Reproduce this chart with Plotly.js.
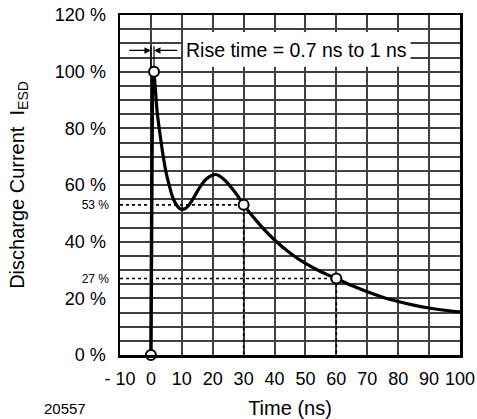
<!DOCTYPE html>
<html>
<head>
<meta charset="utf-8">
<script src="https://cdn.plot.ly/plotly-3.0.1.min.js"></script>
<style>
  html, body { margin: 0; padding: 0; background: #fff; }
  #chart { width: 477px; height: 419px; }
</style>
</head>
<body>
<div id="chart"></div>
<script>
// ---- data ----
const riseT = [0, 0.5, 1];
const riseI = [0, 98, 100];
const decayT = [1, 1.5, 2, 3, 4, 5, 6, 7, 8, 9, 10, 11, 12, 13, 14, 16, 18, 20, 21, 22, 24, 26, 28, 30, 35, 40, 45, 50, 55, 60, 65, 70, 75, 80, 85, 90, 95, 100];
const decayI = [100, 93, 86, 77.5, 70, 64, 59.6, 55.8, 53.4, 52, 51.4, 51.6, 52.5, 54, 55.8, 59.5, 62.2, 63.5, 63.7, 63.3, 61.6, 59.1, 56.3, 53, 46.3, 40.6, 36, 32.3, 29.4, 27, 24.5, 22.3, 20.4, 18.9, 17.6, 16.6, 15.8, 15.2];
const markerT = [0, 1, 30, 60];
const markerI = [0, 100, 53, 27];
const refT = [30, 60];          // dotted reference points
const refI = [53, 27];
const refLabels = ['53 %', '27 %'];
const xTickVals = [-10, 0, 10, 20, 30, 40, 50, 60, 70, 80, 90, 100];
const xTickText = ['- 10', '0', '10', '20', '30', '40', '50', '60', '70', '80', '90', '100'];
const yGridVals = [0,5,10,15,20,25,30,35,40,45,50,55,60,65,70,75,80,85,90,95,100,105,110,115,120];
const yLabelVals = [0, 20, 40, 60, 80, 100, 120];
const riseStart = 0, riseEnd = 1;     // rise-time markers (ns)
const riseArrowLevel = 107.5;
const riseLabel = 'Rise time = 0.7 ns to 1 ns';
const figNumber = '20557';

const FONT = 'Liberation Sans, Arial, Helvetica, sans-serif';
const yTickText = yGridVals.map(v => yLabelVals.includes(v) ? v + ' %' : '');

const traces = [];
// dotted reference lines
refT.forEach((t, i) => {
  traces.push({
    x: [-10, t, t], y: [refI[i], refI[i], 0],
    mode: 'lines', line: {color: '#000', width: 1.6, dash: 'dot'},
    hoverinfo: 'skip', showlegend: false
  });
});
// rise-time thin marker lines
[riseStart, riseEnd].forEach(t => {
  traces.push({
    x: [t, t], y: [100, 109], mode: 'lines',
    line: {color: '#000', width: 1.2}, showlegend: false, hoverinfo: 'skip'
  });
});
// rising edge
traces.push({x: riseT, y: riseI, mode: 'lines', line: {color: '#000', width: 3.5}, showlegend: false});
// decay curve
traces.push({x: decayT, y: decayI, mode: 'lines', line: {color: '#000', width: 3.2, shape: 'spline', smoothing: 1}, showlegend: false});
// circle markers
traces.push({
  x: markerT, y: markerI, mode: 'markers',
  marker: {symbol: 'circle', size: 10, color: '#fff', line: {color: '#000', width: 2}},
  showlegend: false, cliponaxis: false
});
// invisible trace for the secondary y axis (53 % / 27 % labels)
traces.push({x: [refT[0]], y: [refI[0]], yaxis: 'y2', mode: 'markers', marker: {opacity: 0}, showlegend: false, hoverinfo: 'skip'});

const layout = {
  width: 477, height: 419,
  margin: {l: 120, r: 17, t: 15, b: 64},
  paper_bgcolor: '#fff', plot_bgcolor: '#fff',
  font: {family: FONT, color: '#000', size: 18},
  xaxis: {
    range: [-10, 100], tickmode: 'array', tickvals: xTickVals, ticktext: xTickText,
    showgrid: true, gridcolor: '#404040', gridwidth: 2, zeroline: false,
    showline: true, linecolor: '#000', linewidth: 2.5, mirror: true,
    ticks: '', ticklabelstandoff: 6,
    tickfont: {family: FONT, size: 18, color: '#000'},
    title: {text: 'Time (ns)', font: {family: FONT, size: 20, color: '#000'}, standoff: 14}
  },
  yaxis: {
    range: [0, 120], tickmode: 'array', tickvals: yGridVals, ticktext: yTickText,
    showgrid: true, gridcolor: '#404040', gridwidth: 2, zeroline: false,
    showline: true, linecolor: '#000', linewidth: 2.5, mirror: true,
    ticks: '', ticklabelstandoff: 8,
    tickfont: {family: FONT, size: 18, color: '#000'},
    title: {text: 'Discharge Current  I<sub>ESD</sub>', font: {family: FONT, size: 20, color: '#000'}, standoff: 25}
  },
  yaxis2: {
    range: [0, 120], overlaying: 'y', side: 'left', tickmode: 'array',
    tickvals: refI, ticktext: refLabels, showgrid: false, zeroline: false,
    showline: false, ticks: '', ticklabelstandoff: 10,
    tickfont: {family: FONT, size: 12, color: '#000'}
  },
  shapes: [
    {type: 'rect', xref: 'x', yref: 'y', x0: 10.4, x1: 84, y0: 101.7, y1: 114,
     fillcolor: '#fff', line: {width: 0}, layer: 'above'}
  ],
  annotations: [
    {x: 47, y: riseArrowLevel, xref: 'x', yref: 'y', text: riseLabel, showarrow: false,
     font: {family: FONT, size: 19.5, color: '#000'}},
    {x: riseStart, y: riseArrowLevel, xref: 'x', yref: 'y', ax: riseStart - 7.5, ay: riseArrowLevel,
     axref: 'x', ayref: 'y', text: '', showarrow: true, arrowhead: 2, arrowsize: 1, arrowwidth: 1.3, arrowcolor: '#000'},
    {x: riseEnd, y: riseArrowLevel, xref: 'x', yref: 'y', ax: riseEnd + 8, ay: riseArrowLevel,
     axref: 'x', ayref: 'y', text: '', showarrow: true, arrowhead: 2, arrowsize: 1, arrowwidth: 1.3, arrowcolor: '#000'},
    {x: -0.229, y: -0.156, xref: 'paper', yref: 'paper', xanchor: 'left', yanchor: 'middle',
     text: figNumber, showarrow: false, font: {family: FONT, size: 15, color: '#000'}}
  ]
};

Plotly.newPlot('chart', traces, layout, {staticPlot: true, displayModeBar: false});
</script>
</body>
</html>
